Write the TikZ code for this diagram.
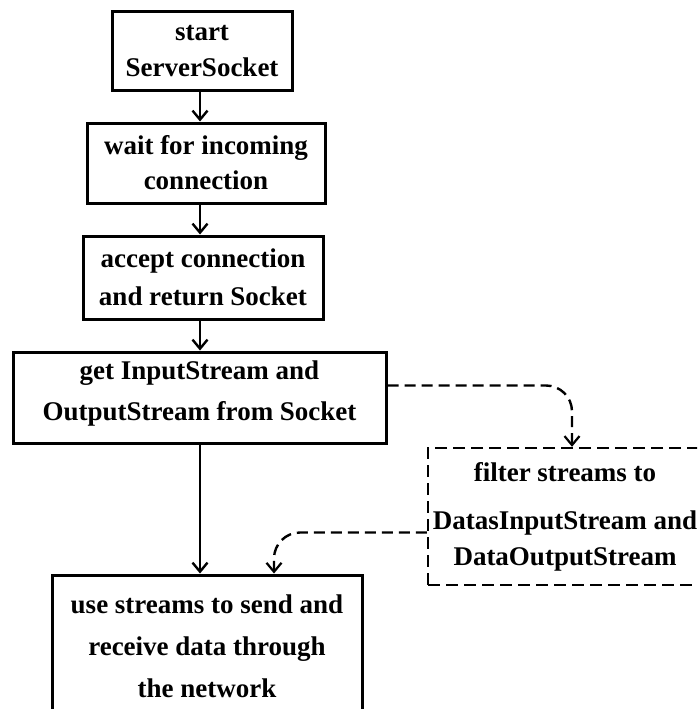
\documentclass[tikz,border=0pt]{standalone}
\usepackage{fontspec}
\setmainfont{Liberation Serif}
\usetikzlibrary{arrows.meta}
\begin{document}
\begin{tikzpicture}[x=1pt,y=-1pt,
  every node/.style={font=\bfseries\fontsize{27}{36}\selectfont, align=center, inner sep=0pt},
  stepbox/.style={draw, line width=3pt, minimum width=#1},
  filterbox/.style={draw, line width=2.4pt, dash pattern=on 12pt off 6pt, minimum width=274pt, minimum height=137pt},
  flow/.style={line width=2.4pt, -{Straight Barb[length=9pt,width=15pt,line width=2.4pt]}},
  side/.style={line width=2.4pt, dash pattern=on 11pt off 6pt, rounded corners=26pt,
    -{Straight Barb[length=9pt,width=15pt,line width=2.2pt]}}]
  \useasboundingbox (0,0) rectangle (697,709);
  \clip (0,0) rectangle (697,709);
  \fill[white] (0,0) rectangle (697,709);

  % main sequence of steps
  \node[stepbox=180pt, minimum height=78pt] (b1) at (202,51) {start\\ServerSocket};
  \node[stepbox=238pt, minimum height=80pt, font=\bfseries\fontsize{27}{35}\selectfont] (b2) at (206,163) {wait for incoming\\connection};
  \node[stepbox=240pt, minimum height=83pt, font=\bfseries\fontsize{27}{38}\selectfont] (b3) at (203,277.5) {accept connection\\and return Socket};
  \node[stepbox=373pt, minimum height=91pt, font=\bfseries\fontsize{27}{41}\selectfont] (b4) at (199.5,397.5) {get InputStream and\\OutputStream from Socket\\[-27pt]};
  \node[stepbox=310pt, minimum height=142pt, font=\bfseries\fontsize{27}{42}\selectfont] (b5) at (207,646) {use streams to send and\\receive data through\\the network};

  % optional filtering step
  \node[filterbox, font=\bfseries\fontsize{27}{36}\selectfont] (f) at (565,516.5) {filter streams to\\[12pt]DatasInputStream and\\DataOutputStream};

  % solid flow arrows
  \draw[flow] (b1.south -| 200,0) -- (b2.north -| 200,0);
  \draw[flow] (b2.south -| 200,0) -- (b3.north -| 200,0);
  \draw[flow] (b3.south -| 200,0) -- (b4.north -| 200,0);
  \draw[flow] (b4.south -| 200,0) -- (b5.north -| 200,0);

  % dashed side path through the filter
  \draw[side] ([yshift=12pt]b4.east) -| ([xshift=7pt]f.north);
  \draw[side] ([yshift=-16pt]f.west) -| ([xshift=67pt]b5.north);
\end{tikzpicture}
\end{document}
